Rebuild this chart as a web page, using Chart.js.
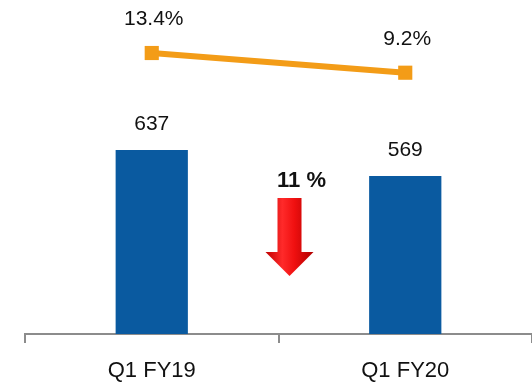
<!DOCTYPE html>
<html>
<head>
<meta charset="utf-8">
<script src="https://cdn.jsdelivr.net/npm/chart.js@4"></script>
<style>
  html, body { margin: 0; padding: 0; background: #fff; }
  #wrap { width: 532px; height: 386px; }
</style>
</head>
<body>
<div id="wrap"><canvas id="chart" width="532" height="386"></canvas></div>
<script>
const categories = ["Q1 FY19", "Q1 FY20"];
const revenue = [637, 569];
const margin = [13.4, 9.2];
const changeLabel = "11 %";

const FONT = "'Liberation Sans', Arial, sans-serif";

// value labels above bars and markers, plus the decline arrow
const labelPlugin = {
  id: "labels",
  afterDatasetsDraw(chart) {
    const ctx = chart.ctx;
    const lineMeta = chart.getDatasetMeta(0);
    const barMeta = chart.getDatasetMeta(1);
    ctx.save();
    ctx.fillStyle = "#111";
    ctx.textAlign = "center";
    ctx.textBaseline = "middle";
    ctx.font = "21px " + FONT;
    barMeta.data.forEach((bar, i) => {
      ctx.fillText(String(revenue[i]), bar.x, bar.y - 26);
    });
    lineMeta.data.forEach((pt, i) => {
      ctx.fillText(margin[i].toFixed(1) + "%", pt.x + 2, pt.y - 34);
    });

    const bars = barMeta.data;
    const mid = (bars[0].x + bars[1].x) / 2;
    ctx.font = "bold 22px " + FONT;
    ctx.fillText(changeLabel, mid + 23, 181);

    const ax = mid + 11, top = 198, neck = 252, tip = 276;
    const g = ctx.createLinearGradient(ax - 24, 0, ax + 24, 0);
    g.addColorStop(0, "#c00000");
    g.addColorStop(0.35, "#ff2a2a");
    g.addColorStop(0.6, "#f01010");
    g.addColorStop(1, "#b00000");
    ctx.fillStyle = g;
    ctx.beginPath();
    ctx.moveTo(ax - 12, top);
    ctx.lineTo(ax + 12, top);
    ctx.lineTo(ax + 12, neck);
    ctx.lineTo(ax + 24, neck);
    ctx.lineTo(ax, tip);
    ctx.lineTo(ax - 24, neck);
    ctx.lineTo(ax - 12, neck);
    ctx.closePath();
    ctx.fill();
    ctx.restore();
  }
};

new Chart(document.getElementById("chart"), {
  data: {
    labels: categories,
    datasets: [
      {
        type: "line",
        data: margin,
        yAxisID: "y1",
        borderColor: "#f39c17",
        borderWidth: 6,
        pointStyle: "rect",
        pointRadius: 10,
        pointBackgroundColor: "#f39c17",
        pointBorderWidth: 0,
        order: 0
      },
      {
        type: "bar",
        data: revenue,
        yAxisID: "y",
        backgroundColor: "#0a5aa0",
        categoryPercentage: 1,
        barPercentage: 0.285,
        order: 1
      }
    ]
  },
  options: {
    responsive: false,
    animation: false,
    layout: { autoPadding: false, padding: { left: 25, right: 0, top: 0, bottom: 0 } },
    plugins: { legend: { display: false }, tooltip: { enabled: false } },
    scales: {
      x: {
        grid: { offset: true, drawOnChartArea: false, drawTicks: true, tickLength: 9, color: "#8c8c8c", lineWidth: 2 },
        border: { display: true, color: "#8c8c8c", width: 2 },
        ticks: { color: "#111", padding: 15, font: { family: FONT, size: 22 } },
        afterFit(scale) {
          scale.paddingLeft = 0;
          scale.paddingRight = 0;
          scale.height = 52;
        }
      },
      y: { display: false, min: 156, max: 1029 },
      y1: { display: false, min: -46.5, max: 24.7 }
    }
  },
  plugins: [labelPlugin]
});
</script>
</body>
</html>
